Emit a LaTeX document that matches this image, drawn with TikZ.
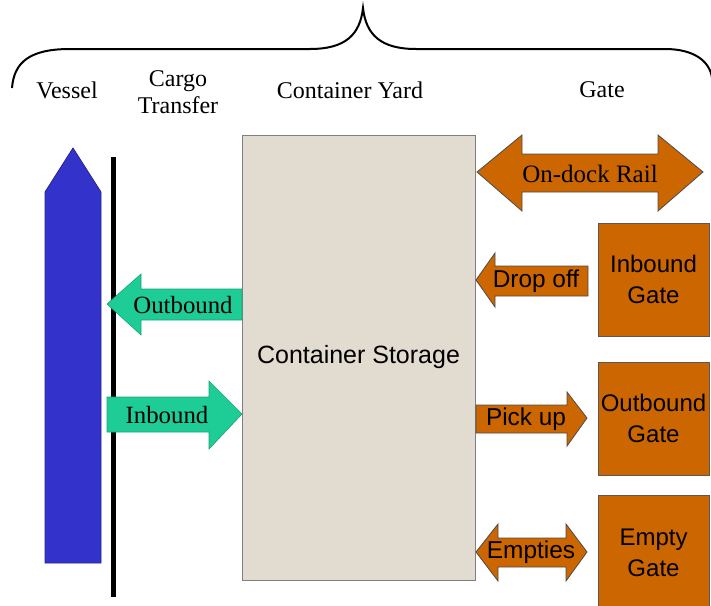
\documentclass[tikz,border=0pt]{standalone}
\usepackage{fontspec}
\setmainfont{Liberation Serif}
\newfontfamily\arialfont{Liberation Sans}
\usepackage{xcolor}
\usepackage{tikz}

\definecolor{vesselblue}{RGB}{51,51,204}
\definecolor{flowgreen}{RGB}{30,204,150}
\definecolor{gateorange}{RGB}{204,102,0}
\definecolor{yardbeige}{RGB}{226,219,208}

\tikzset{
    heading/.style={font=\fontsize{12}{13.5}\selectfont, align=center},
    greenlabel/.style={font=\fontsize{12.4}{14}\selectfont},
    orangelabel/.style={font=\arialfont\fontsize{12.2}{14}\selectfont},
    gatebox/.style={draw=gray!70!black, fill=gateorange, minimum width=55.5pt,
        minimum height=56.5pt, inner sep=0pt, align=center,
        font=\arialfont\fontsize{12}{15.5}\selectfont},
    greenarrow/.style={fill=flowgreen, draw=flowgreen!80!black, line width=0.3pt},
    orangearrow/.style={fill=gateorange, draw=gray!60!black, line width=0.4pt}
}

\begin{document}
\begin{tikzpicture}[x=0.5pt,y=-0.5pt]
                \useasboundingbox (0,0) rectangle (711,605);
                % brace over the whole terminal
                \draw[line width=1pt]
                    (12,88) .. controls (14,62) and (30,49) .. (70,49) --
                    (310,49) .. controls (345,49) and (360,35) .. (363,8)
                    .. controls (366,35) and (381,49) .. (416,49) --
                    (665,49) .. controls (695,49) and (710,62) .. (712,78);
                \node[heading] (vessel) at (67,90) {Vessel};
                \node[heading] (transfer) at (178,92) {Cargo\\Transfer};
                \node[heading] (yard) at (350,90) {Container Yard};
                \node[heading] (gate) at (602,90) {Gate};
                % vessel and quay line
                \draw[fill=vesselblue, draw=vesselblue!70!black, line width=0.4pt]
                    (45,563) -- (45,192) -- (73,148) -- (101,192) -- (101,563) -- cycle;
                \draw[line width=2.5pt] (113,157) -- (113,597);
                % yard
                \node[draw=gray, fill=yardbeige, minimum width=116.5pt, minimum height=222.5pt,
                    font=\arialfont\fontsize{12.5}{15}\selectfont] (storage) at (358.5,357.5) {Container Storage};
                \draw[greenarrow]
                    (242,289) -- (141,289) -- (141,274) -- (107,304) -- (141,335) -- (141,320) -- (242,320) -- cycle;
                \node[greenlabel] (outbound) at (183,305) {Outbound};
                \draw[greenarrow]
                    (107,397) -- (209,397) -- (209,381) -- (242,414) -- (209,449) -- (209,432) -- (107,432) -- cycle;
                \node[greenlabel] (inbound) at (167,415) {Inbound};
                % gate side
                \draw[orangearrow]
                    (477,172) -- (522,135) -- (522,154) -- (658,154) -- (658,135) -- (703,172)
                    -- (658,211) -- (658,192) -- (522,192) -- (522,211) -- cycle;
                \node[font=\fontsize{12.5}{14}\selectfont] (rail) at (590,174) {On-dock Rail};
                \draw[orangearrow]
                    (588,266) -- (495,266) -- (495,253) -- (476,280) -- (495,307) -- (495,296) -- (588,296) -- cycle;
                \node[orangelabel] (dropoff) at (536,281) {Drop off};
                \draw[orangearrow]
                    (476,405) -- (567,405) -- (567,392) -- (587,418) -- (567,446) -- (567,433) -- (476,433) -- cycle;
                \node[orangelabel] (pickup) at (526,419) {Pick up};
                \draw[orangearrow]
                    (476,552) -- (498,524) -- (498,538) -- (566,538) -- (566,524) -- (587,552)
                    -- (566,581) -- (566,567) -- (498,567) -- (498,581) -- cycle;
                \node[orangelabel] (empties) at (531,552) {Empties};
                \node[gatebox] (ingate) at (653.5,279.5) {Inbound\\Gate};
                \node[gatebox] (outgate) at (653.5,418.5) {Outbound\\Gate};
                \draw[fill=gateorange, draw=gray!70!black] (598,495) rectangle (709,608);
                \node[font=\arialfont\fontsize{12}{15.5}\selectfont, align=center] (emptygate) at (653.5,553) {Empty\\Gate};
            \end{tikzpicture}
\end{document}
